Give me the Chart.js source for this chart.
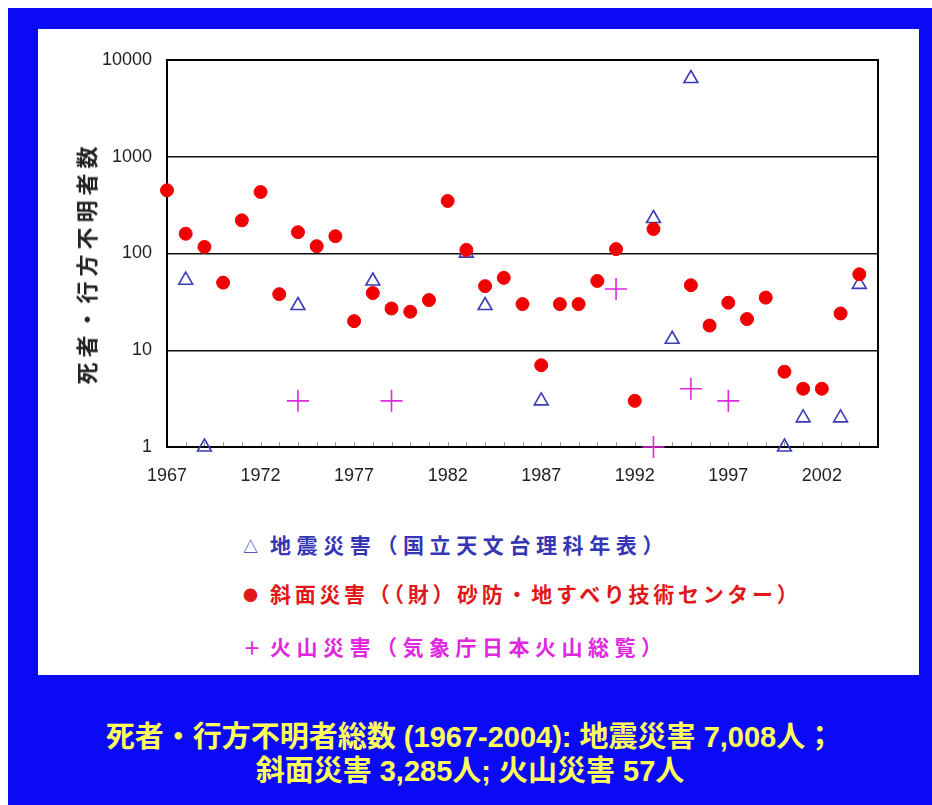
<!DOCTYPE html>
<html><head><meta charset="utf-8">
<script src="https://cdn.jsdelivr.net/npm/chart.js@4/dist/chart.umd.min.js"></script>
<style>
html,body{margin:0;padding:0;background:#fff;width:932px;height:805px;overflow:hidden;}
#frame{position:absolute;left:8px;top:8px;width:924px;height:797px;background:#0a0af6;}
#panel{position:absolute;left:38px;top:29px;width:881px;height:646px;background:#fff;}
#plot{position:absolute;left:38px;top:29px;}
#ytitle{position:absolute;left:85px;top:263px;transform:translate(-50%,-50%) rotate(-90deg);white-space:nowrap;font:bold 22px "Noto Sans CJK JP";letter-spacing:5px;color:#222;line-height:1;}
.leg{position:absolute;left:243px;font:bold 21px "Noto Sans CJK JP";white-space:nowrap;line-height:1;}
.sym{display:inline-block;width:27px;letter-spacing:0;vertical-align:middle;position:relative;top:-2px;}
.foot{position:absolute;left:8px;width:924px;text-align:center;color:#ffff5c;font:bold 29px "Liberation Sans","Noto Sans CJK JP";white-space:nowrap;line-height:1;}
</style></head>
<body>
<div id="frame"></div>
<div id="panel"></div>
<canvas id="plot" width="881" height="470"></canvas>
<div id="ytitle">死者・行方不明者数</div>
<div class="leg" style="top:534px;color:#3636b4;letter-spacing:5.6px;"><span class="sym" style="font-size:15px;">△</span>地震災害（国立天文台理科年表）</div>
<div class="leg" style="top:583px;color:#e01818;letter-spacing:3.7px;"><span class="sym" style="font-size:15px;">●</span>斜面災害（（財）砂防・地すべり技術センター）</div>
<div class="leg" style="top:636px;color:#e028e0;letter-spacing:5.5px;"><span class="sym" style="font-size:18px;">＋</span>火山災害（気象庁日本火山総覧）</div>
<div class="foot" style="top:723px;">死者・行方不明者総数 (1967-2004): 地震災害 7,008人；</div>
<div class="foot" style="top:757px;">斜面災害 3,285人; 火山災害 57人</div>
<script>
// Axis tick positions
const xTicks = [1967, 1972, 1977, 1982, 1987, 1992, 1997, 2002];
const yTicks = [1, 10, 100, 1000, 10000];

// Earthquake disasters (deaths + missing)
const quakeYears  = [1968, 1969, 1974, 1978, 1983, 1984, 1987, 1993, 1994, 1995, 2000, 2001, 2003, 2004];
const quakeDeaths = [53, 1, 29, 52, 101, 29, 3, 230, 13, 6437, 1, 2, 2, 48];

// Slope (landslide) disasters
const slopeYears  = [1967, 1968, 1969, 1970, 1971, 1972, 1973, 1974, 1975, 1976, 1977, 1978, 1979,
                     1980, 1981, 1982, 1983, 1984, 1985, 1986, 1987, 1988, 1989, 1990, 1991, 1992,
                     1993, 1995, 1996, 1997, 1998, 1999, 2000, 2001, 2002, 2003, 2004];
const slopeDeaths = [450, 160, 117, 50, 220, 432, 38, 166, 119, 151, 20, 39, 27,
                     25, 33, 349, 109, 46, 56, 30, 7, 30, 30, 52, 111, 3,
                     179, 47, 18, 31, 21, 35, 6, 4, 4, 24, 61];

// Volcanic disasters
const volcYears  = [1974, 1979, 1991, 1993, 1995, 1997];
const volcDeaths = [3, 3, 43, 1, 4, 3];

const pts = (xs, ys) => xs.map((x, i) => ({x: x, y: ys[i]}));

// Plot frame and yearly minor ticks along the bottom axis
const framePlugin = {
  id: 'frame',
  beforeDatasetsDraw(chart) {
    const {ctx, chartArea: a, scales: {x}} = chart;
    ctx.save();
    ctx.strokeStyle = '#999';
    ctx.lineWidth = 1;
    for (let yr = 1968; yr < 2005; yr++) {
      const px = Math.round(x.getPixelForValue(yr)) + 0.5;
      ctx.beginPath();
      ctx.moveTo(px, a.bottom - 5);
      ctx.lineTo(px, a.bottom);
      ctx.stroke();
    }
    ctx.strokeStyle = '#000';
    ctx.lineWidth = 2;
    ctx.strokeRect(a.left, a.top, a.right - a.left, a.bottom - a.top);
    ctx.restore();
  }
};

new Chart(document.getElementById('plot'), {
  type: 'scatter',
  data: {
    datasets: [
      {
        label: '斜面災害', data: pts(slopeYears, slopeDeaths), order: 0, clip: false,
        pointStyle: 'circle', pointRadius: 6.5, pointHoverRadius: 6.5,
        backgroundColor: '#f00000', borderColor: '#f00000', borderWidth: 1
      },
      {
        label: '地震災害', data: pts(quakeYears, quakeDeaths), order: 1, clip: false,
        pointStyle: 'triangle', pointRadius: 8, pointHoverRadius: 8,
        backgroundColor: 'rgba(0,0,0,0)', borderColor: '#3a3ab8', borderWidth: 1.6
      },
      {
        label: '火山災害', data: pts(volcYears, volcDeaths), order: 2, clip: false,
        pointStyle: 'cross', pointRadius: 11, pointHoverRadius: 11,
        backgroundColor: '#e028e0', borderColor: '#e028e0', borderWidth: 1.6
      }
    ]
  },
  options: {
    responsive: false,
    animation: false,
    devicePixelRatio: 1,
    layout: {padding: {left: 0, right: 41, top: 31, bottom: 0}},
    plugins: {legend: {display: false}, tooltip: {enabled: false}},
    scales: {
      x: {
        type: 'linear', min: 1967, max: 2005,
        afterBuildTicks: s => { s.ticks = xTicks.map(v => ({value: v})); },
        afterFit: s => { s.height = 52; },
        ticks: {
          callback: v => String(v), autoSkip: false, maxRotation: 0, padding: 18,
          color: '#222', font: {family: 'Liberation Sans', size: 18}
        },
        grid: {display: false, drawTicks: false},
        border: {display: true, color: '#000', width: 2}
      },
      y: {
        type: 'logarithmic', min: 1, max: 10000,
        afterBuildTicks: s => { s.ticks = yTicks.map(v => ({value: v})); },
        afterFit: s => { s.width = 129; },
        ticks: {
          callback: v => String(v), padding: 15,
          color: '#222', font: {family: 'Liberation Sans', size: 18}
        },
        grid: {color: '#111', lineWidth: 1.5, drawTicks: false},
        border: {display: true, color: '#000', width: 2}
      }
    }
  },
  plugins: [framePlugin]
});
</script>
</body></html>
